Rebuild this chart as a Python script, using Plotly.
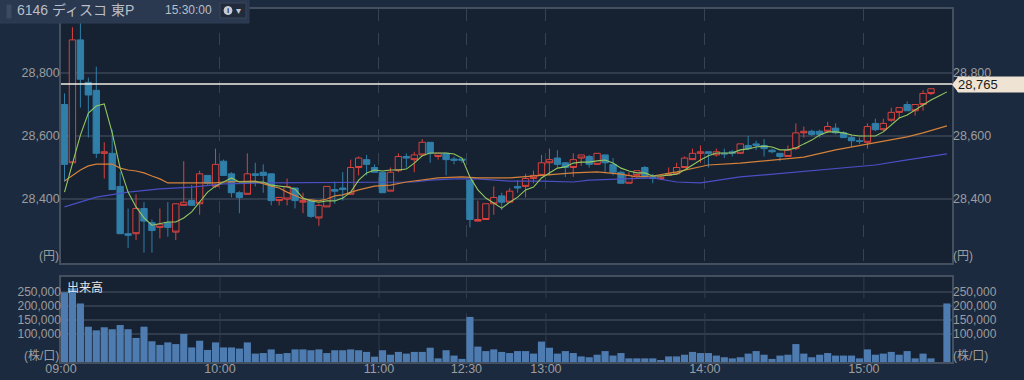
import plotly.graph_objects as go

TITLE = "6146 ディスコ 東P"
TIME = "15:30:00"
LAST = 28765
idx = list(range(112))
tick_idx = [0, 20, 40, 51, 61, 81, 101]
tick_txt = ["09:00", "10:00", "11:00", "12:30", "13:00", "14:00", "15:00"]

opens = [28700,28515,28905,28770,28745,28545,28545,28440,28290,28290,
 28370,28325,28310,28325,28295,28380,28395,28385,28475,28440,
 28520,28480,28420,28415,28480,28485,28480,28395,28400,28435,
 28390,28395,28340,28375,28430,28435,28415,28500,28525,28500,
 28485,28425,28490,28535,28525,28540,28580,28535,28545,28527,
 28527,28460,28330,28335,28385,28410,28390,28440,28440,28465,
 28475,28515,28530,28515,28500,28530,28535,28510,28540,28510,
 28485,28450,28475,28500,28470,28465,28475,28480,28500,28525,
 28545,28550,28540,28545,28550,28545,28570,28575,28570,28555,
 28545,28535,28560,28610,28615,28615,28615,28625,28610,28595,
 28585,28580,28640,28620,28650,28675,28700,28680,28700,28735,None,None]
highs = [28735,28945,28960,28785,28820,28580,28620,28485,28370,28415,
 28390,28335,28370,28390,28385,28520,28445,28490,28475,28560,
 28525,28485,28425,28545,28515,28510,28480,28405,28465,28435,
 28420,28400,28385,28440,28455,28485,28525,28535,28540,28510,
 28485,28500,28545,28545,28550,28590,28580,28545,28545,28535,
 28527,28460,28395,28385,28440,28420,28435,28460,28480,28490,
 28540,28560,28555,28516,28545,28540,28540,28545,28540,28530,
 28490,28485,28490,28505,28480,28475,28500,28515,28535,28560,
 28570,28550,28560,28560,28555,28575,28600,28585,28590,28560,
 28545,28570,28640,28630,28620,28620,28645,28640,28615,28605,
 28595,28640,28655,28655,28690,28690,28710,28700,28745,28750,None,None]
lows = [28455,28510,28690,28595,28530,28465,28430,28290,28245,28270,
 28230,28230,28275,28280,28270,28380,28380,28350,28445,28435,
 28475,28405,28355,28415,28440,28420,28380,28380,28380,28370,
 28355,28340,28315,28375,28385,28395,28415,28475,28475,28485,
 28420,28425,28485,28500,28485,28535,28515,28525,28475,28510,
 28515,28310,28330,28335,28350,28365,28390,28420,28405,28450,
 28475,28475,28500,28470,28470,28505,28500,28510,28485,28475,
 28450,28450,28470,28465,28450,28460,28475,28480,28500,28525,
 28515,28500,28535,28530,28535,28545,28555,28555,28535,28545,
 28520,28535,28555,28595,28600,28595,28610,28605,28595,28565,
 28575,28560,28615,28615,28645,28655,28680,28665,28680,28730,None,None]
closes = [28510,28905,28780,28730,28545,28550,28430,28290,28285,28370,
 28330,28300,28320,28310,28385,28390,28380,28480,28450,28510,
 28475,28420,28405,28480,28475,28475,28395,28405,28440,28395,
 28395,28345,28380,28440,28425,28430,28500,28530,28510,28485,
 28420,28485,28535,28530,28540,28580,28545,28545,28525,28523,
 28523,28335,28335,28385,28405,28390,28425,28435,28465,28475,
 28515,28525,28510,28500,28525,28540,28510,28545,28515,28485,
 28450,28475,28490,28470,28465,28470,28480,28500,28530,28545,
 28550,28545,28550,28543,28545,28575,28560,28570,28560,28550,
 28535,28555,28610,28615,28605,28605,28630,28610,28595,28585,
 28583,28630,28620,28640,28675,28690,28680,28700,28735,28750,None,None]

volume = [249000,263000,209000,126000,113000,124000,117000,132000,117000,86000,
 126000,74000,61000,70000,64000,100000,52000,76000,43000,70000,
 52000,52000,48000,70000,30000,32000,45000,29000,32000,45000,
 45000,42000,45000,32000,42000,42000,45000,42000,36000,19000,
 42000,26000,36000,30000,36000,36000,51000,13000,42000,23000,
 11000,161000,55000,39000,45000,36000,32000,39000,39000,30000,
 73000,51000,30000,39000,32000,20000,17000,26000,39000,23000,
 32000,13000,13000,13000,13000,4000,20000,20000,26000,36000,
 32000,32000,23000,17000,13000,17000,30000,39000,26000,11000,
 23000,26000,64000,30000,17000,26000,32000,23000,23000,23000,
 13000,45000,26000,30000,36000,26000,39000,13000,30000,13000,None,209000]

ma_short = [28422,28517,28603,28673,28695,28702,28610,28498,28422,28375,
 28340,28317,28321,28327,28327,28340,28359,28390,28422,28441,
 28454,28467,28454,28454,28454,28454,28444,28441,28438,28432,
 28403,28394,28390,28394,28394,28403,28422,28460,28483,28492,
 28489,28492,28492,28495,28514,28537,28546,28546,28546,28543,
 28530,28470,28429,28403,28387,28371,28390,28406,28429,28438,
 28467,28483,28498,28502,28514,28517,28517,28521,28524,28514,
 28498,28489,28483,28483,28473,28473,28476,28479,28492,28508,
 28524,28537,28546,28546,28546,28556,28559,28565,28568,28565,
 28556,28556,28562,28575,28587,28603,28613,28613,28610,28603,
 28600,28600,28600,28613,28635,28657,28667,28683,28698,28714,28727,28740]

ma_mid_x = [0,1,2,3,4,5,6,7,8,9,10,11,12,13,19,20,24,26,27,28,29,30,31,32,33,34,35,37,39,41,43,45,47,50,52,56,60,64,67,70,72,74,77,81,85,89,91,93,97,102,106,108,111]
ma_mid = [28457,28476,28492,28505,28511,28511,28511,28498,28492,28489,28483,28473,28464,28451,28451,28454,28457,28441,28435,28422,28410,28400,28397,28394,28400,28410,28413,28429,28441,28444,28454,28460,28467,28470,28467,28467,28476,28483,28486,28479,28470,28473,28486,28508,28514,28524,28527,28533,28556,28578,28597,28610,28632]

ma_long_x = [0,4,8,12,16,20,25,40,44,46,49,52,56,60,64,66,70,74,77,80,85,89,93,97,102,106,111]
ma_long = [28375,28406,28422,28432,28438,28448,28451,28454,28454,28460,28464,28464,28457,28457,28454,28460,28464,28467,28454,28451,28470,28479,28489,28498,28508,28524,28543]

main_ticks = [28400, 28600, 28800]
vol_ticks = [100000, 150000, 200000, 250000]

PAPER = "#1b2a3e"
PLOT = "#162231"
GRID = "#303c4c"
BORDER = "#444f60"
LABEL = "#9b9da0"
RED = "#d8423f"
BLUE = "#2f7fa9"
FONT = "Liberation Sans, Noto Sans CJK JP, sans-serif"
W, H = 1024, 380
L, R, T, B = 61, 72, 9, 18
PW, PH = W - L - R, H - T - B
XRANGE = [-0.44, 111.64]
YMAIN = [28197, 29003]
YVOL = [0, 303500]
edges = [i - 0.44 for i in tick_idx]

fig = go.Figure()
def candles(pick, color, fill):
    rows = [i for i in idx if opens[i] is not None and pick(opens[i], closes[i])]
    lo = [min(opens[i], closes[i]) for i in rows]
    hi = [max(opens[i], closes[i]) for i in rows]
    return go.Box(x=rows, q1=lo, median=lo, q3=hi,
                  lowerfence=[lows[i] for i in rows], upperfence=[highs[i] for i in rows],
                  width=0.8, whiskerwidth=0, boxpoints=False, fillcolor=fill,
                  line=dict(color=color, width=1), xaxis="x", yaxis="y", showlegend=False)
fig.add_trace(candles(lambda o, c: c < o, BLUE, BLUE))
fig.add_trace(candles(lambda o, c: c >= o, RED, PLOT))
fig.add_trace(go.Scatter(x=ma_long_x, y=ma_long, mode="lines", line=dict(color="#4b4fc4", width=1.2), showlegend=False))
fig.add_trace(go.Scatter(x=ma_mid_x, y=ma_mid, mode="lines", line=dict(color="#d5813a", width=1.2), showlegend=False))
fig.add_trace(go.Scatter(x=idx, y=ma_short, mode="lines", line=dict(color="#93c860", width=1.1), showlegend=False))
fig.add_trace(go.Bar(x=idx, y=volume, xaxis="x2", yaxis="y2", marker=dict(color="#4f7cb0", line=dict(width=0)), showlegend=False))
# right-hand axes
fig.add_trace(go.Scatter(x=[0], y=[28400], xaxis="x", yaxis="y3", mode="lines", line=dict(width=0), hoverinfo="skip", showlegend=False))
fig.add_trace(go.Scatter(x=[0], y=[100000], xaxis="x2", yaxis="y4", mode="lines", line=dict(width=0), hoverinfo="skip", showlegend=False))

shapes = [dict(type="line", xref="paper", yref="y", x0=0, x1=1, y0=LAST, y1=LAST, line=dict(color="#f2efe4", width=1.5), layer="above")]
for e in edges[1:]:
    shapes.append(dict(type="line", xref="x2", yref="y2", x0=e, x1=e, y0=228000, y1=YVOL[1], line=dict(color=GRID, width=1), layer="below"))
    shapes.append(dict(type="line", xref="x2", yref="y2", x0=e, x1=e, y0=0, y1=175000, line=dict(color=GRID, width=1), layer="below"))

def px(x0, y0, x1, y1, fill, line=None, kind="rect"):
    return dict(type=kind, xref="paper", yref="paper",
                x0=(x0 - L) / PW, x1=(x1 - L) / PW, y0=1 - (y1 - T) / PH, y1=1 - (y0 - T) / PH,
                fillcolor=fill, line=dict(color=line or fill, width=1), layer="above")
shapes.append(px(-1, -1, 249, 23, "#2a3850", "#2f3d55"))
shapes.append(px(220, 3, 246, 18, "#222b3c", "#3a465a"))
shapes.append(px(7, 5, 11, 18, "#3d4a60"))
shapes.append(px(224, 6.5, 232, 14.5, "#c9ccd2", kind="circle"))
shapes.append(px(958, 77, 1025, 92, "#efe4d4"))
ty = lambda y: 1 - (y - T) / PH
tx = lambda x: (x - L) / PW
shapes.append(dict(type="path", xref="paper", yref="paper", layer="above", fillcolor="#efe4d4", line=dict(width=0),
                   path=f"M {tx(952)} {ty(84.5)} L {tx(958)} {ty(77)} L {tx(958)} {ty(92)} Z"))

def note(x, y, text, xanchor="left", size=13, color=LABEL, **kw):
    return dict(xref="paper", yref="paper", x=tx(x), y=ty(y), text=text, showarrow=False, xanchor=xanchor, yanchor="middle",
                font=dict(family=FONT, size=size, color=color), **kw)

annotations = [
    note(15, 10, TITLE, color="#b9bec7", size=14),
    note(163, 10, TIME, color="#b9bec7", size=12),
    note(228, 10.5, "<b>i</b>", "center", size=8, color="#222b3c"),
    note(238.5, 10.5, "▾", "center", size=10, color="#c4c8cf"),
    note(956, 84.5, f"{LAST:,}", color="#1a1a1a", size=13),
    note(61, 256, "(円)", "right", size=12),
    note(951, 256, "(円)", size=12),
    note(61, 355, "(株/口)", "right", size=12),
    note(951, 355, "(株/口)", size=12),
    note(65, 288, "出来高", color="#e6e6e6", size=12),
]

axis_common = dict(showline=True, linecolor=BORDER, linewidth=1.5, mirror=True, zeroline=False, automargin=False,
                   tickfont=dict(family=FONT, size=12.5, color=LABEL), ticks="")
vol_font = dict(family=FONT, size=12, color=LABEL)
fig.update_layout(
    width=W, height=H, autosize=False, paper_bgcolor=PAPER, plot_bgcolor=PLOT,
    margin=dict(l=L, r=R, t=T, b=B), showlegend=False, bargap=0.1,
    shapes=shapes, annotations=annotations,
    xaxis=dict(domain=[0, 1], range=XRANGE, anchor="y", tickvals=edges, ticktext=[""] * len(edges),
               showgrid=True, gridcolor="#364252", griddash="12px,12px", gridwidth=1, **axis_common),
    xaxis2=dict(domain=[0, 1], range=XRANGE, anchor="y2", tickvals=edges, ticktext=tick_txt,
                ticklabelstandoff=-6, showgrid=False, **axis_common),
    yaxis=dict(domain=[99 / PH, 1], range=YMAIN, anchor="x", tickvals=main_ticks, ticktext=[f"{v:,}" for v in main_ticks],
               showgrid=True, gridcolor=GRID, gridwidth=1.5, ticklabelstandoff=-3, **axis_common),
    yaxis2=dict(domain=[0, 85 / PH], range=YVOL, anchor="x2", tickvals=vol_ticks, ticktext=[f"{v:,}" for v in vol_ticks],
                showgrid=True, gridcolor=GRID, gridwidth=1.5, ticklabelstandoff=-4, **{**axis_common, "tickfont": vol_font}),
    yaxis3=dict(overlaying="y", side="right", anchor="x", range=YMAIN, tickvals=main_ticks, ticktext=[f"{v:,}" for v in main_ticks],
                showgrid=False, zeroline=False, automargin=False, tickfont=dict(family=FONT, size=12.5, color=LABEL), ticks=""),
    yaxis4=dict(overlaying="y2", side="right", anchor="x2", range=YVOL, tickvals=vol_ticks, ticktext=[f"{v:,}" for v in vol_ticks],
                showgrid=False, zeroline=False, automargin=False, tickfont=vol_font, ticks=""),
)
fig.write_html("out.html", config=dict(displayModeBar=False),
               post_script="document.body.style.margin='0';document.body.style.background='#1b2a3e';document.body.style.overflow='hidden';")
